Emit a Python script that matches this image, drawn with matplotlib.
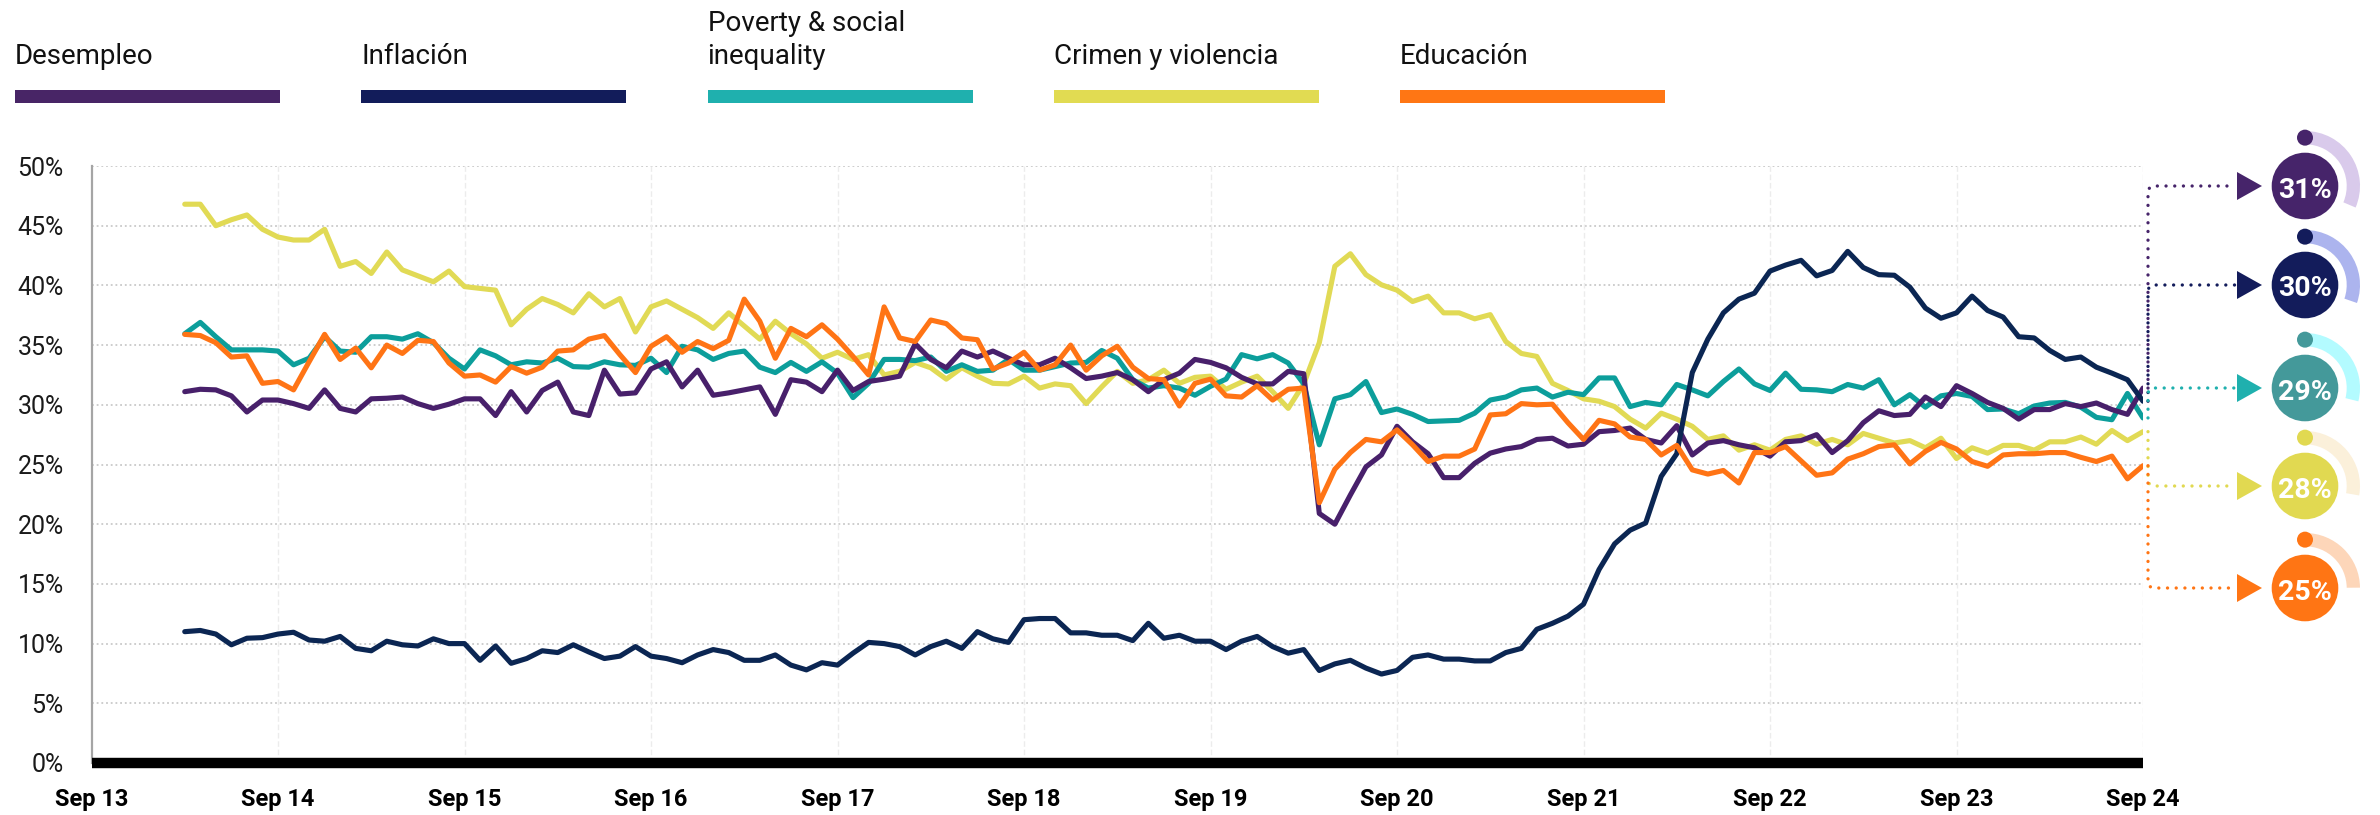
import matplotlib
matplotlib.use('Agg')
import matplotlib.pyplot as plt
from matplotlib.patches import Rectangle, Circle, Wedge, Polygon
import numpy as np

plt.rcParams['font.family'] = ['Roboto', 'DejaVu Sans']

# ---------------- data ----------------
series_names = ['Desempleo', 'Inflación', 'Poverty & social\ninequality',
                'Crimen y violencia', 'Educación']
x_tick_labels = ['Sep 13', 'Sep 14', 'Sep 15', 'Sep 16', 'Sep 17', 'Sep 18',
                 'Sep 19', 'Sep 20', 'Sep 21', 'Sep 22', 'Sep 23', 'Sep 24']
y_tick_labels = ['0%', '5%', '10%', '15%', '20%', '25%', '30%', '35%', '40%', '45%', '50%']
first_month_offset = 6   # first point: Mar 2014 (months after Sep 2013)

desempleo = [31.1, 31.3, 31.25, 30.75, 29.4, 30.4, 30.4, 30.1, 29.7, 31.25, 29.7, 29.4, 30.5,
             30.55, 30.65, 30.1, 29.7, 30.05, 30.5, 30.5, 29.1, 31.1, 29.4, 31.2, 31.9, 29.4,
             29.1, 32.9, 30.9, 31.0, 33.0, 33.6, 31.5,
             32.9, 30.8, 31.0, 31.25, 31.5, 29.2, 32.1, 31.9, 31.1, 32.9, 31.2, 31.95, 32.15,
             32.4, 35.1, 33.8, 33.1, 34.5, 34.0, 34.5, 33.9, 33.35, 33.35, 33.9, 33.1, 32.2,
             32.4, 32.7, 32.1, 31.1, 32.1, 32.65, 33.8,
             33.55, 33.1, 32.3, 31.75, 31.75, 32.8, 32.6, 20.9, 20.0, 22.45, 24.8, 25.8, 28.2,
             26.9, 25.9, 23.9, 23.9, 25.1, 25.95, 26.3, 26.5, 27.1, 27.2, 26.55, 26.7, 27.75,
             27.85, 28.05, 27.1, 26.8, 28.25, 25.8, 26.8,
             27.0, 26.65, 26.4, 25.7, 26.9, 27.0, 27.5, 26.0, 27.0, 28.5, 29.5, 29.1, 29.2,
             30.65, 29.85, 31.6, 30.95, 30.2, 29.7, 28.8, 29.6, 29.6, 30.1, 29.85, 30.15,
             29.6, 29.2, 31.4]

inflacion = [11.0, 11.1, 10.8, 9.9, 10.45, 10.5, 10.8, 10.95, 10.3, 10.2, 10.6, 9.6, 9.4,
             10.2, 9.9, 9.8, 10.4, 10.0, 10.0, 8.6, 9.8, 8.35, 8.75, 9.4, 9.25, 9.9, 9.3,
             8.75, 8.95, 9.75, 8.95, 8.75, 8.4,
             9.05, 9.5, 9.25, 8.6, 8.6, 9.05, 8.2, 7.8, 8.4, 8.2, 9.2, 10.1, 10.0, 9.75, 9.05,
             9.75, 10.2, 9.6, 11.0, 10.4, 10.1, 12.0, 12.1, 12.1, 10.9, 10.9, 10.7, 10.7,
             10.25, 11.7, 10.45, 10.7, 10.2,
             10.2, 9.5, 10.2, 10.6, 9.75, 9.2, 9.5, 7.75, 8.3, 8.6, 7.95, 7.45, 7.75, 8.85,
             9.05, 8.7, 8.7, 8.55, 8.55, 9.25, 9.6, 11.2, 11.7, 12.3, 13.3, 16.2, 18.35, 19.5,
             20.1, 24.0, 25.9, 32.7, 35.5,
             37.7, 38.85, 39.35, 41.2, 41.7, 42.1, 40.8, 41.25, 42.85, 41.5, 40.9, 40.85,
             39.85, 38.1, 37.25, 37.7, 39.1, 37.9, 37.35, 35.7, 35.6, 34.55, 33.8, 34.0,
             33.15, 32.65, 32.1, 30.3]

pobreza = [35.95, 36.9, 35.7, 34.6, 34.6, 34.6, 34.5, 33.35, 33.9, 35.7, 34.5, 34.4, 35.7,
           35.7, 35.5, 35.95, 35.2, 33.9, 33.0, 34.6, 34.1, 33.35, 33.6, 33.5, 33.9, 33.2,
           33.15, 33.6, 33.35, 33.3, 33.9, 32.7, 34.9,
           34.6, 33.8, 34.3, 34.5, 33.15, 32.7, 33.55, 32.8, 33.6, 32.65, 30.6, 31.8, 33.8,
           33.8, 33.7, 34.0, 32.8, 33.35, 32.8, 32.9, 33.8, 32.9, 32.9, 33.2, 33.5, 33.55,
           34.55, 33.9, 32.1, 31.4, 31.6, 31.4, 30.8,
           31.55, 32.15, 34.2, 33.85, 34.2, 33.5, 31.75, 26.65, 30.5, 30.85, 31.95, 29.35,
           29.65, 29.2, 28.6, 28.65, 28.7, 29.3, 30.4, 30.65, 31.25, 31.4, 30.65, 31.05,
           30.85, 32.25, 32.25, 29.85, 30.2, 30.0, 31.7, 31.25, 30.75,
           31.95, 33.0, 31.75, 31.2, 32.65, 31.3, 31.25, 31.1, 31.7, 31.4, 32.1, 30.0, 30.85,
           29.8, 30.75, 30.95, 30.7, 29.6, 29.65, 29.25, 29.9, 30.15, 30.2, 29.8, 28.95,
           28.75, 30.95, 28.9]

crimen = [46.8, 46.8, 45.0, 45.5, 45.9, 44.7, 44.05, 43.8, 43.8, 44.7, 41.6, 42.0, 41.0,
          42.8, 41.3, 40.8, 40.3, 41.2, 39.9, 39.75, 39.6, 36.7, 38.0, 38.9, 38.4, 37.7,
          39.3, 38.2, 38.9, 36.1, 38.2, 38.7, 38.0,
          37.3, 36.4, 37.7, 36.6, 35.5, 37.0, 35.95, 35.1, 33.9, 34.4, 33.8, 34.2, 32.5,
          32.8, 33.55, 33.1, 32.15, 33.1, 32.4, 31.8, 31.75, 32.4, 31.4, 31.75, 31.6, 30.1,
          31.5, 32.8, 31.8, 32.1, 32.9, 31.8, 32.3,
          32.4, 31.3, 31.9, 32.4, 31.1, 29.7, 31.75, 35.2, 41.6, 42.65, 40.9, 40.05, 39.6,
          38.65, 39.1, 37.7, 37.7, 37.2, 37.55, 35.3, 34.3, 34.05, 31.8, 31.2, 30.5, 30.3,
          29.85, 28.8, 28.05, 29.3, 28.8, 28.2, 27.1,
          27.4, 26.2, 26.65, 26.2, 27.1, 27.4, 26.7, 27.1, 26.65, 27.6, 27.2, 26.8, 27.0,
          26.4, 27.2, 25.5, 26.4, 25.95, 26.6, 26.6, 26.2, 26.9, 26.9, 27.3, 26.7, 27.85,
          27.0, 27.75]

educacion = [35.9, 35.8, 35.2, 34.0, 34.1, 31.8, 31.95, 31.25, 33.6, 35.9, 33.8, 34.75, 33.1,
             35.0, 34.3, 35.4, 35.3, 33.5, 32.4, 32.5, 31.9, 33.2, 32.65, 33.15, 34.5, 34.6,
             35.5, 35.8, 34.2, 32.7, 34.9, 35.7, 34.4,
             35.3, 34.7, 35.4, 38.85, 37.0, 33.9, 36.4, 35.7, 36.7, 35.5, 34.05, 32.5, 38.2,
             35.6, 35.3, 37.1, 36.8, 35.6, 35.45, 33.0, 33.5, 34.4, 32.9, 33.35, 35.0, 32.9,
             34.1, 34.9, 33.15, 32.2, 32.1, 29.9, 31.8,
             32.15, 30.75, 30.65, 31.6, 30.4, 31.3, 31.4, 21.8, 24.6, 26.0, 27.1, 26.9, 27.9,
             26.65, 25.25, 25.7, 25.7, 26.3, 29.15, 29.25, 30.1, 30.0, 30.05, 28.5, 27.1,
             28.7, 28.4, 27.3, 27.1, 25.8, 26.6, 24.55, 24.2,
             24.5, 23.45, 26.0, 26.0, 26.5, 25.3, 24.1, 24.3, 25.45, 25.9, 26.5, 26.65, 25.05,
             26.1, 26.85, 26.3, 25.25, 24.85, 25.8, 25.9, 25.9, 26.0, 26.0, 25.6, 25.25,
             25.7, 23.8, 24.9]

# ---------------- styles ----------------
line_colors = ['#48206B', '#0B2653', '#0C9E9B', '#E1DA55', '#FF7415']
legend_colors = ['#482566', '#121C5A', '#1FB0AE', '#E1DB52', '#FF7614']
badge_colors = ['#46246A', '#131C5B', '#44999A', '#E1D951', '#FF7514']
ring_colors = ['#D9CAEB', '#ACB4EE', '#B3FBFF', '#FBF0DA', '#FDD6B9']
arrow_colors = ['#46246A', '#131C5B', '#1FB0AE', '#E1D951', '#FF7514']
zorders = [4, 5, 3, 2, 6]

W, H = 2380, 815
fig = plt.figure(figsize=(W / 100, H / 100), dpi=100, facecolor='white')

# plot area in pixels
L, R, T, B = 91.5, 2143, 166, 763
ax = fig.add_axes([L / W, 1 - B / H, (R - L) / W, (B - T) / H])
ax.set_facecolor('none')

all_series = [desempleo, inflacion, pobreza, crimen, educacion]
months = np.arange(len(desempleo)) + first_month_offset

for vals, col, z in zip(all_series, line_colors, zorders):
    ax.plot(months, vals, color=col, lw=3.7, solid_capstyle='round',
            solid_joinstyle='round', zorder=z)

ax.set_xlim(0, 132)
ax.set_ylim(0, 50)
ax.set_yticks(np.arange(0, 51, 5))
ax.set_yticklabels(y_tick_labels)
ax.set_xticks(np.arange(0, 133, 12))
ax.set_xticklabels(x_tick_labels, fontweight='bold')
ax.tick_params(axis='y', length=0, labelsize=18, pad=20, labelcolor='#1a1a1a')
ax.tick_params(axis='x', length=0, labelsize=17, pad=18, labelcolor='#000000')

for yv in range(5, 51, 5):
    ax.axhline(yv, color='#c9c9c9', lw=1.3, ls=(0, (1, 1.6)), zorder=0)
for xv in range(12, 133, 12):
    ax.axvline(xv, color='#ececec', lw=1.0, ls=(0, (4, 2)), zorder=0)

for s in ['top', 'right', 'bottom']:
    ax.spines[s].set_visible(False)
ax.spines['left'].set_color('#a5a5a5')
ax.spines['left'].set_linewidth(1.6)

ax.axhline(0, color='black', lw=7.5, solid_capstyle='butt', clip_on=False, zorder=8)

# ---------------- overlay (pixel coordinates) ----------------
ov = fig.add_axes([0, 0, 1, 1], zorder=10)
ov.set_xlim(0, W)
ov.set_ylim(H, 0)
ov.axis('off')
ov.patch.set_alpha(0)

fig.canvas.draw()

# legend
legend_x0 = 15
legend_dx = 346.3
bar_w = 265
for k, (name, col) in enumerate(zip(series_names, legend_colors)):
    x0 = legend_x0 + k * legend_dx
    lines = name.split('\n')
    for j, ln in enumerate(lines):
        yb = 64 - 33 * (len(lines) - 1 - j)
        ov.text(x0, yb, ln, ha='left', va='baseline', fontsize=20,
                color='#111111')
    ov.add_patch(Rectangle((x0, 90), bar_w, 12.5, facecolor=col, edgecolor='none'))

# badges
badge_cx = 2305
badge_ys = [186, 285, 388, 486, 588]
r_circle = 33.3
r_ring_out = 55
ring_w = 13.3
arrow_x0, arrow_x1, arrow_h = 2237, 2262, 14

for k, vals in enumerate(all_series):
    last = vals[-1]
    by = badge_ys[k]
    # connector from series end
    px = ax.transData.transform((months[-1], last))
    x_end = px[0]
    y_end = H - px[1]
    xc = x_end + 5
    rc = 6
    sgn = 1 if by > y_end else -1
    if abs(by - y_end) > rc:
        ang = np.linspace(0, np.pi / 2, 6)[1:-1]
        xs = [xc, xc] + list(xc + rc - rc * np.cos(ang)) + [xc + rc, arrow_x0 - 2]
        ys = [y_end, by - sgn * rc] + list(by - sgn * rc * (1 - np.sin(ang))) + [by, by]
    else:
        xs = [xc, arrow_x0 - 2]
        ys = [by, by]
    ov.plot(xs, ys, color=arrow_colors[k], lw=2.4, ls=(0, (0.01, 2.6)),
            dash_capstyle='round', zorder=3)
    # arrow head
    ov.add_patch(Polygon([(arrow_x0, by - arrow_h), (arrow_x0, by + arrow_h), (arrow_x1, by)],
                         closed=True, facecolor=arrow_colors[k], edgecolor='none', zorder=4))
    # gauge ring (sweep proportional to value)
    sweep = last / 100.0 * 360.0
    ov.add_patch(Wedge((badge_cx, by), r_ring_out, -90, -90 + sweep, width=ring_w,
                       facecolor=ring_colors[k], edgecolor='none', zorder=4))
    r_mid = r_ring_out - ring_w / 2
    ov.add_patch(Circle((badge_cx, by - r_mid), 8, facecolor=badge_colors[k],
                        edgecolor='none', zorder=5))
    ov.add_patch(Circle((badge_cx, by), r_circle, facecolor=badge_colors[k],
                        edgecolor='none', zorder=5))
    ov.text(badge_cx, by + 1, f"{int(round(last))}%", ha='center', va='center_baseline',
            color='white', fontsize=20.5, fontweight='bold', zorder=6)

fig.savefig('out.png', dpi=100, facecolor='white')
